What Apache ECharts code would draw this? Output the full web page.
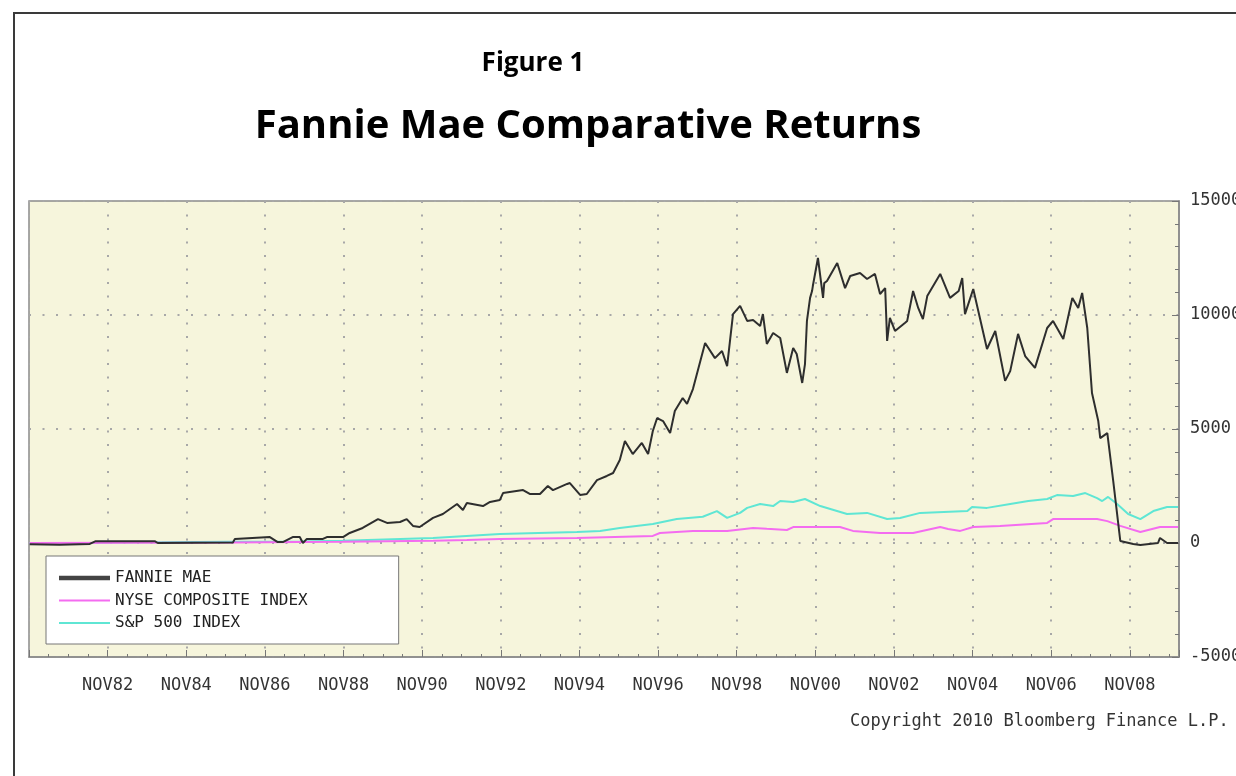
<!DOCTYPE html>
<html>
<head>
<meta charset="utf-8">
<script src="https://cdn.jsdelivr.net/npm/echarts@6/dist/echarts.min.js"></script>
<style>
  html,body{margin:0;padding:0;background:#fff}
  #chart{width:1236px;height:776px}
</style>
</head>
<body>
<div id="chart"></div>
<script>
// dates are decimal years, values are cumulative % return
const fnmaDates = [1980.85,1981.61,1982.38,1982.53,1984.03,1984.11,1986.02,1986.07,1986.96,1987.16,
  1987.29,1987.54,1987.72,1987.80,1987.90,1988.31,1988.41,1988.82,1988.99,1989.32,
  1989.71,1989.94,1990.27,1990.44,1990.60,1990.77,1991.11,1991.36,1991.72,1991.87,
  1991.97,1992.38,1992.56,1992.81,1992.89,1993.40,1993.57,1993.83,1994.03,1994.16,
  1994.52,1994.59,1994.85,1995.02,1995.28,1995.53,1995.69,1995.86,1995.99,1996.19,
  1996.42,1996.58,1996.70,1996.81,1996.96,1997.14,1997.26,1997.46,1997.57,1997.72,
  1998.03,1998.28,1998.46,1998.59,1998.74,1998.92,1999.10,1999.25,1999.43,1999.50,
  1999.60,1999.76,1999.94,2000.11,2000.27,2000.36,2000.50,2000.57,2000.62,2000.70,
  2000.75,2000.77,2000.90,2001.03,2001.06,2001.13,2001.39,2001.59,2001.72,2001.97,
  2002.15,2002.35,2002.48,2002.61,2002.66,2002.73,2002.86,2003.11,2003.17,2003.32,
  2003.45,2003.57,2003.68,2004.01,2004.26,2004.48,2004.57,2004.64,2004.85,2005.20,
  2005.41,2005.66,2005.79,2005.99,2006.17,2006.42,2006.73,2006.88,2007.14,2007.37,
  2007.52,2007.62,2007.75,2007.87,2008.03,2008.08,2008.26,2008.41,2008.59,2008.92,
  2009.10,2009.55,2009.60,2009.78,2010.06];
const fnmaValues = [-50,-80,-40,80,80,0,20,180,260,40,
  40,260,260,0,180,180,260,260,440,660,
  1050,880,920,1050,750,700,1100,1270,1710,1450,
  1750,1620,1800,1890,2190,2320,2150,2150,2500,2320,
  2590,2630,2110,2150,2760,2940,3070,3640,4470,3900,
  4390,3900,4910,5480,5350,4820,5790,6360,6100,6750,
  8770,8110,8420,7760,10040,10400,9740,9780,9520,10040,
  8730,9210,8990,7460,8550,8290,7020,7850,9740,10750,
  11050,11270,12500,10750,11400,11490,12280,11180,11710,11840,
  11580,11800,10920,11180,8860,9870,9300,9650,9740,11050,
  10310,9820,10830,11800,10750,11050,11620,10040,11140,8510,
  9300,7110,7540,9170,8200,7680,9430,9740,8950,10750,
  10310,10970,9430,6580,5350,4600,4820,2720,90,-40,
  -90,0,220,0,0];

const nyseDates = [1980.85,1986.02,1987.72,1988.82,1991.11,1991.97,1992.81,1994.77,1996.70,1996.88,
  1997.72,1998.59,1999.25,1999.60,2000.11,2000.27,2000.96,2001.46,2001.79,2002.48,
  2003.32,2004.01,2004.21,2004.52,2004.85,2005.53,2006.73,2006.88,2008.00,2008.26,
  2008.59,2009.10,2009.60,2010.06];
const nyseValues = [0,20,40,50,100,130,180,220,310,440,
  530,530,660,620,570,700,700,700,530,440,
  440,700,610,530,700,750,880,1050,1050,960,
  750,480,700,700];

const spxDates = [1980.85,1982.63,1984.16,1986.02,1987.72,1988.82,1991.11,1992.81,1994.77,1995.36,
  1995.86,1996.70,1997.31,1997.97,1998.33,1998.59,1998.92,1999.10,1999.43,1999.76,
  1999.94,2000.27,2000.57,2000.96,2001.64,2002.15,2002.66,2002.99,2003.50,2004.70,
  2004.82,2005.20,2005.79,2006.25,2006.73,2006.98,2007.39,2007.70,2008.00,2008.13,
  2008.28,2008.51,2008.79,2009.10,2009.43,2009.78,2010.06];
const spxValues = [0,10,30,50,70,100,220,390,480,530,
  660,830,1050,1150,1400,1100,1320,1540,1710,1620,
  1840,1800,1930,1620,1270,1320,1050,1100,1320,1400,
  1580,1540,1710,1840,1930,2100,2060,2190,1970,1840,
  2020,1710,1270,1050,1400,1580,1580];

const xLabels = ['NOV80','NOV82','NOV84','NOV86','NOV88','NOV90','NOV92','NOV94',
  'NOV96','NOV98','NOV00','NOV02','NOV04','NOV06','NOV08'];
const seriesNames = ['FANNIE MAE', 'NYSE COMPOSITE INDEX', 'S&P 500 INDEX'];

const START = 1980 + 10 / 12;   // x axis counts years from Nov 1980
const MONO = '"DejaVu Sans Mono", monospace';

function pairs(dates, values){
  return dates.map((d, i) => [d - START, values[i]]);
}

const chart = echarts.init(document.getElementById('chart'));
chart.setOption({
  animation: false,
  backgroundColor: '#fff',
  grid: { left: 29, top: 201, width: 1150, height: 456, show: true, outerBoundsMode: 'none',
    backgroundColor: '#F6F5DC', borderColor: '#8a8a8a', borderWidth: 1.5 },
  xAxis: {
    type: 'value', min: 0, max: 29.25, interval: 2,
    axisLine: { show: true, onZero: false, lineStyle: { color: '#8a8a8a', width: 1.5 } },
    axisTick: { show: true, inside: true, length: 7, lineStyle: { color: '#777' } },
    minorTick: { show: true, splitNumber: 4, length: 3, lineStyle: { color: '#777' } },
    axisLabel: { margin: 20, color: '#333', fontFamily: MONO, fontSize: 17,
      showMinLabel: false, showMaxLabel: false,
      formatter: v => xLabels[Math.round(v / 2)] || '' },
    splitLine: { show: true, lineStyle: { color: '#a8a8a8', width: 2, type: [2, 11.5] } }
  },
  yAxis: {
    type: 'value', position: 'right', min: -5000, max: 15000, interval: 5000,
    axisLine: { show: true, onZero: false, lineStyle: { color: '#8a8a8a', width: 1.5 } },
    axisTick: { show: true, inside: true, length: 7, lineStyle: { color: '#777' } },
    minorTick: { show: true, splitNumber: 5, length: 4, lineStyle: { color: '#777' } },
    axisLabel: { margin: 11, color: '#333', fontFamily: MONO, fontSize: 17,
      formatter: v => String(v) },
    splitLine: { show: true, lineStyle: { color: '#a8a8a8', width: 2, type: [2, 11.5] } }
  },
  legend: {
    orient: 'vertical', left: 46, top: 556, selectedMode: false,
    backgroundColor: '#fff', borderColor: '#777', borderWidth: 1,
    padding: [14, 91, 13, 13], itemWidth: 51, itemHeight: 14, itemGap: 6.5,
    textStyle: { fontFamily: MONO, fontSize: 16, color: '#222', lineHeight: 16 },
    data: [
      { name: seriesNames[0], icon: 'path://M0,0H50V4.5H0Z', itemStyle: { color: '#444' } },
      { name: seriesNames[1], icon: 'path://M0,0H50V1.8H0Z' },
      { name: seriesNames[2], icon: 'path://M0,0H50V1.8H0Z' }
    ]
  },
  graphic: [
    { type: 'rect', silent: true, shape: { x: 14, y: 13, width: 1240, height: 800 },
      style: { fill: 'transparent', stroke: '#3a3a3a', lineWidth: 2 } },
    { type: 'text', silent: true, x: 533, y: 64,
      style: { text: 'Figure 1', font: 'bold 26px "Open Sans", sans-serif', fill: '#000',
        textAlign: 'center', textVerticalAlign: 'middle' } },
    { type: 'text', silent: true, x: 588, y: 127,
      style: { text: 'Fannie Mae Comparative Returns', font: 'bold 40px "Open Sans", sans-serif', fill: '#000',
        textAlign: 'center', textVerticalAlign: 'middle' } },
    { type: 'text', silent: true, x: 850, y: 722,
      style: { text: 'Copyright 2010 Bloomberg Finance L.P.', font: '17px ' + MONO, fill: '#333',
        textAlign: 'left', textVerticalAlign: 'middle' } }
  ],
  series: [
    { type: 'line', name: seriesNames[2], data: pairs(spxDates, spxValues), symbol: 'none',
      lineStyle: { color: '#5FE6D4', width: 2 }, itemStyle: { color: '#5FE6D4' }, z: 2 },
    { type: 'line', name: seriesNames[1], data: pairs(nyseDates, nyseValues), symbol: 'none',
      lineStyle: { color: '#F46CF0', width: 2 }, itemStyle: { color: '#F46CF0' }, z: 3 },
    { type: 'line', name: seriesNames[0], data: pairs(fnmaDates, fnmaValues), symbol: 'none',
      lineStyle: { color: '#2e2e2e', width: 2 }, itemStyle: { color: '#2e2e2e' }, z: 4 }
  ]
});
</script>
</body>
</html>
